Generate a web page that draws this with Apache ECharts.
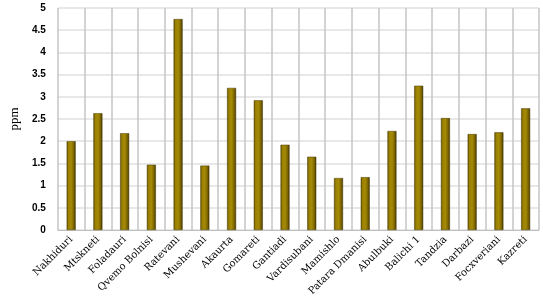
<!DOCTYPE html>
<html><head><meta charset="utf-8">
<script src="https://cdn.jsdelivr.net/npm/echarts@6/dist/echarts.min.js"></script>
<style>html,body{margin:0;padding:0;background:#fff}#c{width:543px;height:299px}</style>
</head><body><div id="c"></div>
<script>
const categories = ["Nakhiduri","Mtskneti","Foladauri","Qvemo Bolnisi","Ratevani","Mushevani","Akaurta","Gomareti","Gantiadi","Vardisubani","Mamishlo","Patara Dmanisi","Abulbuki","Balichi 1","Tandzia","Darbazi","Focxveriani","Kazreti"];
const values = [2.0,2.63,2.18,1.47,4.75,1.45,3.2,2.92,1.92,1.65,1.17,1.19,2.23,3.25,2.52,2.16,2.2,2.74];
const yTicks = [0,0.5,1,1.5,2,2.5,3,3.5,4,4.5,5];
const chart = echarts.init(document.getElementById('c'));
chart.setOption({
  animation:false,
  grid:{left:42,right:4,top:8,bottom:69},
  xAxis:{type:'category',data:categories,
    axisLine:{lineStyle:{color:'#bfbfbf'}},axisTick:{show:false},
    splitLine:{show:true,lineStyle:{color:'#c4c4c4',width:1.5}},
    axisLabel:{rotate:45,interval:0,fontFamily:'DejaVu Serif',fontSize:10,color:'#000',margin:8}},
  yAxis:{type:'value',min:0,max:5,interval:0.5,name:'ppm',nameLocation:'middle',nameGap:29,
    nameTextStyle:{fontFamily:'Liberation Serif',fontSize:13,color:'#000'},
    axisLine:{show:false},axisTick:{show:false},
    splitLine:{lineStyle:{color:'#e0e0e0',width:1.5}},
    axisLabel:{fontFamily:'Liberation Sans',fontWeight:'bold',fontSize:10,color:'#000',margin:12,
      formatter:v=>String(v)}},
  series:[{type:'bar',data:values,barWidth:9,
    itemStyle:{color:new echarts.graphic.LinearGradient(0,0,1,0,[
      {offset:0,color:'#5e4c00'},{offset:0.2,color:'#9a8000'},{offset:0.5,color:'#a58a05'},
      {offset:0.8,color:'#7a6300'},{offset:1,color:'#3a2f00'}]),
      borderColor:'#4a3c00',borderWidth:0.5}}]
});
</script></body></html>
